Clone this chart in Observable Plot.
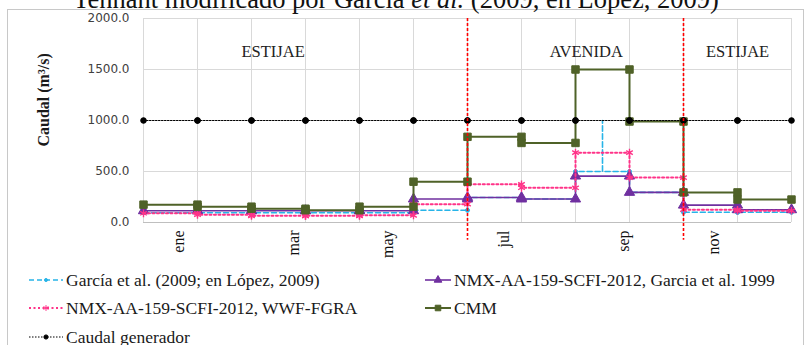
<!DOCTYPE html>
<html><head><meta charset="utf-8">
<script src="https://cdn.jsdelivr.net/npm/d3@7"></script>
<script src="https://cdn.jsdelivr.net/npm/@observablehq/plot@0.6"></script>
<style>
html,body{margin:0;padding:0;background:#fff;}
#wrap{position:relative;width:808px;height:345px;overflow:hidden;background:#fff;}
#frame{position:absolute;left:7px;top:9px;width:797px;height:400px;border:1px solid #c8c8c8;box-sizing:border-box;}
#title{position:absolute;left:0;width:792px;top:-14px;text-align:center;font-family:"Liberation Serif",serif;font-size:26.5px;line-height:26px;white-space:nowrap;color:#111;}
#chart{position:absolute;left:0;top:0;}
.leg{position:absolute;display:flex;align-items:center;font-family:"Liberation Serif","Times New Roman",serif;font-size:17.5px;line-height:20px;color:#1a1a1a;white-space:nowrap;}
.leg svg{margin-right:2px;}
</style></head>
<body>
<div id="wrap">
  <div id="frame"></div>
  <div id="chart"></div>
  <div id="title">Tennant modificado por García <i>et al.</i> (2009, en López, 2009)</div>
  <div id="legend"></div>
</div>
<script>
// ---- data ----
const months = ["ene","feb","mar","abr","may","jun","jul","ago","sep","oct","nov","dic"];
const garcia2009 = [95,95,95,95,95,120,245,230,500,295,100,100];
const garcia2009PeakMonth = "sep";
const garcia2009PeakValue = 1000;
const nmxGarcia1999 = [115,115,115,115,115,230,245,230,455,295,170,125];
const nmxWWF = [90,75,65,65,70,180,375,340,685,440,125,115];
const cmm = [175,155,135,120,155,400,840,780,1500,990,295,225];
const caudalGenerador = [1000,1000,1000,1000,1000,1000,1000,1000,1000,1000,1000,1000];
const yTicks = [0,500,1000,1500,2000];
const xTickLabels = ["ene","mar","may","jul","sep","nov"];
const xTickAt = [0.65,2.78,4.52,6.67,8.89,10.56];
const seasonLabels = ["ESTIJAE","AVENIDA","ESTIJAE"];
const seasonAt = [2.4,8.2,11.0];
const seasonLevel = 1670;
const seasonBoundaries = ["jun","oct"]; // end of these months
const legendLabels = [
  "García et al. (2009; en López, 2009)",
  "NMX-AA-159-SCFI-2012, Garcia et al. 1999",
  "NMX-AA-159-SCFI-2012, WWF-FGRA",
  "CMM",
  "Caudal generador"
];

// ---- styles ----
const S = {
  garcia: {color:"#27b4e8", dash:"5,3", width:1.6, symbol:"circle", r:2, fill:"#27b4e8", stroke:"#27b4e8"},
  nmxG:   {color:"#7030a0", dash:null, width:1.6, symbol:"triangle", r:3.8, fill:"#7030a0", stroke:"#7030a0"},
  nmxW:   {color:"#ff3388", dash:"2,2.5", width:2, symbol:"asterisk", r:3.6, fill:"none", stroke:"#ff3388"},
  cmm:    {color:"#4f6228", dash:null, width:2, symbol:"square", r:4.2, fill:"#4f6228", stroke:"#4f6228"},
  gen:    {color:"#000000", dash:"1.5,1.5", width:1.1, symbol:"circle", r:2.8, fill:"#000", stroke:"#000"}
};
const keys = ["garcia","nmxG","nmxW","cmm","gen"];

function steps(vals, peakIdx, peakVal) {
  const pts = [];
  vals.forEach((v, m) => {
    pts.push({x:m, y:v, marker:true});
    if (m === peakIdx) {
      pts.push({x:m+0.5, y:v, marker:false});
      pts.push({x:m+0.5, y:peakVal, marker:false});
      pts.push({x:m+0.5, y:v, marker:false});
    }
    pts.push({x:m+1, y:v, marker:true});
  });
  return pts;
}
const seriesPts = {
  garcia: steps(garcia2009, months.indexOf(garcia2009PeakMonth), garcia2009PeakValue),
  nmxG: steps(nmxGarcia1999),
  nmxW: steps(nmxWWF),
  cmm: steps(cmm),
  gen: steps(caudalGenerador)
};

const seriesMarks = [];
for (const k of keys) {
  const st = S[k];
  seriesMarks.push(Plot.line(seriesPts[k], {x:"x", y:"y", stroke:st.color, strokeWidth:st.width,
    strokeDasharray: st.dash || undefined, curve:"linear"}));
  seriesMarks.push(Plot.dot(seriesPts[k].filter(d => d.marker), {x:"x", y:"y", symbol:st.symbol, r:st.r,
    fill:st.fill, stroke:st.stroke, strokeWidth: k === "nmxW" ? 1.4 : 1}));
}

const chart = Plot.plot({
  width: 808, height: 268,
  marginLeft: 143, marginRight: 17, marginTop: 18, marginBottom: 46,
  x: {domain:[0,12], axis:null},
  y: {domain:[0,2000], axis:null},
  style: {background:"transparent", overflow:"visible", fontFamily:"DejaVu Sans", fontSize:"12px"},
  marks: [
    Plot.gridY(yTicks, {stroke:"#d9d9d9", strokeOpacity:1}),
    Plot.gridX(d3.range(months.length + 1), {stroke:"#d9d9d9", strokeOpacity:1}),
    Plot.ruleY([0], {stroke:"#bfbfbf"}),
    Plot.axisY(yTicks, {tickSize:0, tickPadding:14, tickFormat: d => d.toFixed(1), fill:"#404040", label:null}),
    Plot.text(["Caudal (m³/s)"], {frameAnchor:"left", dx:-100, dy:26, rotate:-90, fontFamily:"Liberation Serif",
      fontWeight:"bold", fontSize:16, fill:"#1a1a1a"}),
    ...seriesMarks,
    Plot.ruleX(seasonBoundaries.map(m => months.indexOf(m) + 1), {y1:2000, y2:-175, stroke:"#ff0000",
      strokeDasharray:"3,2", strokeWidth:1.6}),
    Plot.text(seasonLabels, {x:(d,i)=>seasonAt[i], y:() => seasonLevel, text:d=>d, fontFamily:"Liberation Serif",
      fontSize:16.5, fill:"#222"}),
    Plot.text(xTickLabels, {x:(d,i)=>xTickAt[i], y:() => 0, text:d=>d, rotate:-90, textAnchor:"end", dy:8,
      fontFamily:"Liberation Serif", fontSize:16, fill:"#111"})
  ]
});
document.getElementById("chart").appendChild(chart);

// ---- legend ----
const legendPos = [
  {left:28, cy:280, w:36}, {left:424, cy:280, w:28},
  {left:28, cy:308, w:36}, {left:424, cy:308, w:28},
  {left:28, cy:337, w:36}
];
const symMap = {circle:d3.symbolCircle, triangle:d3.symbolTriangle, square:d3.symbolSquare,
  asterisk: d3.symbolAsterisk || d3.symbolCross};
const legend = document.getElementById("legend");
keys.forEach((k, i) => {
  const st = S[k];
  const div = document.createElement("div");
  div.className = "leg";
  div.style.left = legendPos[i].left + "px";
  div.style.top = (legendPos[i].cy - 10) + "px";
  const w = legendPos[i].w, h = 14;
  const svg = d3.create("svg").attr("width", w).attr("height", h);
  svg.append("line").attr("x1",1).attr("x2",w-1).attr("y1",h/2).attr("y2",h/2)
    .attr("stroke", st.color).attr("stroke-width", st.width)
    .attr("stroke-dasharray", st.dash || null);
  const size = Math.PI * Math.pow(st.r * 0.75, 2);
  svg.append("path").attr("transform", `translate(${w/2},${h/2})`)
    .attr("d", d3.symbol(symMap[st.symbol], size)())
    .attr("fill", st.fill).attr("stroke", st.stroke).attr("stroke-width", 1);
  div.appendChild(svg.node());
  const span = document.createElement("span");
  span.textContent = legendLabels[i];
  div.appendChild(span);
  legend.appendChild(div);
});
</script>
</body></html>
